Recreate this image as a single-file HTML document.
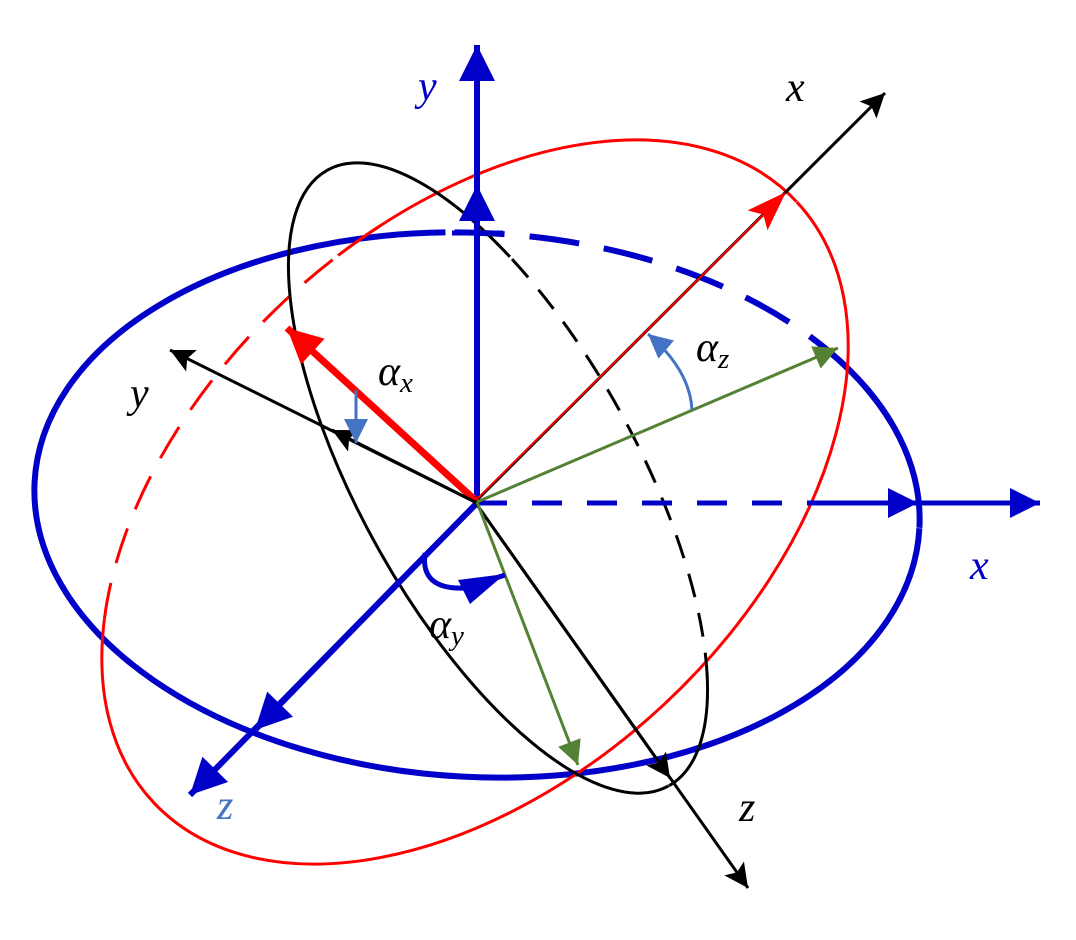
<!DOCTYPE html>
<html><head><meta charset="utf-8"><style>
html,body{margin:0;padding:0;background:#fff;width:1076px;height:940px;overflow:hidden}
svg{display:block}
text{font-family:"Liberation Serif","DejaVu Serif",serif;font-style:italic;font-size:42px}
</style></head><body>
<svg width="1076" height="940" viewBox="0 0 1076 940" xmlns="http://www.w3.org/2000/svg">
<defs>
<marker id="bb" viewBox="0 0 10 10" refX="10" refY="5" markerWidth="7" markerHeight="6" markerUnits="strokeWidth" orient="auto"><path d="M0,0L10,5L0,10z" fill="#0000c8"/></marker>
<marker id="kb" viewBox="0 0 10 10" refX="10" refY="5" markerWidth="11" markerHeight="8" markerUnits="strokeWidth" orient="auto"><path d="M0,0L10,5L0,10L2,5z" fill="#000"/></marker>
<marker id="rb" viewBox="0 0 10 10" refX="10" refY="5" markerWidth="5" markerHeight="5" markerUnits="strokeWidth" orient="auto"><path d="M0,0L10,5L0,10z" fill="#f00"/></marker>
<marker id="gb" viewBox="0 0 10 10" refX="10" refY="5" markerWidth="11" markerHeight="8" markerUnits="strokeWidth" orient="auto"><path d="M0,0L10,5L0,10z" fill="#548235"/></marker>
<marker id="lb" viewBox="0 0 10 10" refX="10" refY="5" markerWidth="8" markerHeight="8" markerUnits="strokeWidth" orient="auto"><path d="M0,0L10,5L0,10z" fill="#4472c4"/></marker>
</defs>

<g transform="translate(477,505) rotate(3)">
<ellipse cx="0" cy="0" rx="443" ry="272" fill="none" stroke="#0000c8" stroke-width="6" pathLength="100" stroke-dasharray="73 17 10"/>
<ellipse cx="0" cy="0" rx="443" ry="272" fill="none" stroke="#0000c8" stroke-width="6" pathLength="100" stroke-dasharray="0 73.4 2.2 1.1 2.2 1.1 2.2 1.1 2.2 1.1 2.2 1.1 2.2 1.1 2 100"/>
</g>
<g transform="translate(475,502) rotate(-43)">
<ellipse cx="0" cy="0" rx="440" ry="277" fill="none" stroke="#f00" stroke-width="3" pathLength="100" stroke-dasharray="58.6 19.4 22"/>
<ellipse cx="0" cy="0" rx="440" ry="277" fill="none" stroke="#f00" stroke-width="3" pathLength="100" stroke-dasharray="0 58.6 1.6 0.9 1.6 0.9 1.6 0.9 1.6 0.9 1.6 0.9 1.6 0.9 1.6 0.9 1.6 0.9 1.6 100"/>
</g>
<g transform="translate(498,478) rotate(61)">
<ellipse cx="0" cy="0" rx="352" ry="139" fill="none" stroke="#000" stroke-width="3" pathLength="100" stroke-dasharray="63.3 28.9 7.8"/>
<ellipse cx="0" cy="0" rx="352" ry="139" fill="none" stroke="#000" stroke-width="3" pathLength="100" stroke-dasharray="0 63.5 1.5 1 1.5 1 1.5 1 1.5 1 1.5 1 1.5 1 1.5 1 1.5 1 1.5 1 1.5 1 1.5 1 1.5 100"/>
</g>

<line x1="477" y1="502" x2="477" y2="45" stroke="#0000c8" stroke-width="6" marker-end="url(#bb)"/>
<line x1="477" y1="300" x2="477" y2="185" stroke="#0000c8" stroke-width="6" marker-end="url(#bb)"/>
<line x1="452" y1="233" x2="503" y2="233" stroke="#0000c8" stroke-width="5"/>
<line x1="477" y1="503" x2="810" y2="503" stroke="#0000c8" stroke-width="5" stroke-dasharray="30 25"/>
<line x1="810" y1="503" x2="1040" y2="503" stroke="#0000c8" stroke-width="5" marker-end="url(#bb)"/>
<line x1="810" y1="503" x2="918" y2="503" stroke="#0000c8" stroke-width="5" marker-end="url(#bb)"/>
<line x1="477" y1="503" x2="190" y2="795" stroke="#0000c8" stroke-width="6" marker-end="url(#bb)"/>
<line x1="400" y1="581" x2="255" y2="730" stroke="#0000c8" stroke-width="6" marker-end="url(#bb)"/>

<line x1="475" y1="502" x2="885" y2="93" stroke="#000" stroke-width="3" marker-end="url(#kb)"/>
<line x1="476" y1="500" x2="765" y2="213" stroke="#f00" stroke-width="2"/>
<polygon points="786,192 767.5,230.2 763.3,214.6 747.7,210.4" fill="#f00"/>
<line x1="475" y1="500" x2="287" y2="328" stroke="#f00" stroke-width="7" marker-end="url(#rb)"/>

<line x1="475" y1="502" x2="170" y2="350" stroke="#000" stroke-width="3" marker-end="url(#kb)"/>
<line x1="475" y1="502" x2="332" y2="430" stroke="#000" stroke-width="3" marker-end="url(#kb)"/>
<line x1="475" y1="502" x2="748" y2="888" stroke="#000" stroke-width="3" marker-end="url(#kb)"/>
<line x1="475" y1="502" x2="670" y2="778" stroke="#000" stroke-width="3" marker-end="url(#kb)"/>

<line x1="477" y1="502" x2="838" y2="348" stroke="#548235" stroke-width="3" marker-end="url(#gb)"/>
<line x1="477" y1="502" x2="578" y2="765" stroke="#548235" stroke-width="3" marker-end="url(#gb)"/>

<line x1="356" y1="390" x2="356" y2="443" stroke="#4472c4" stroke-width="3" marker-end="url(#lb)"/>
<path d="M692,410 Q690,370 648,334" fill="none" stroke="#4472c4" stroke-width="3" marker-end="url(#lb)"/>
<path d="M425,553 Q420,590 465,588 L505,575" fill="none" stroke="#0000c8" stroke-width="5"/>
<path d="M458,580 L505,574 L470,604 z" fill="#0000c8"/>

<text x="418" y="100" fill="#0000c8">y</text>
<text x="786" y="101" fill="#000">x</text>
<text x="130" y="407" fill="#000">y</text>
<text x="378" y="385" fill="#000">α<tspan font-size="29" dy="7">x</tspan></text>
<text x="696" y="361" fill="#000">α<tspan font-size="29" dy="7">z</tspan></text>
<text x="429" y="638" fill="#000">α<tspan font-size="29" dy="7">y</tspan></text>
<text x="970" y="579" fill="#0000c8">x</text>
<text x="217" y="819" fill="#4472c4">z</text>
<text x="739" y="821" fill="#000">z</text>
</svg>
</body></html>
